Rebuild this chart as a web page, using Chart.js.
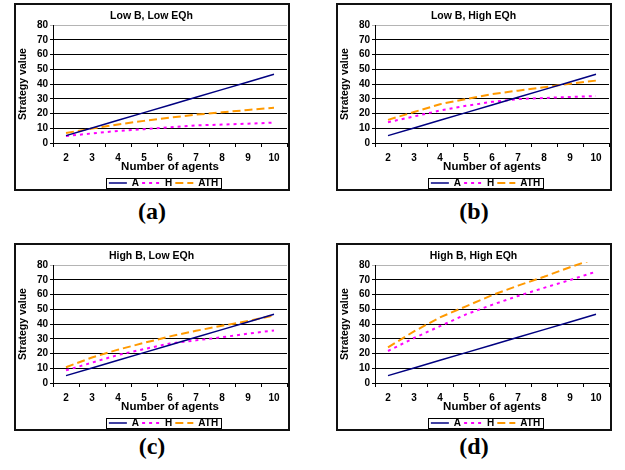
<!DOCTYPE html>
<html>
<head>
<meta charset="utf-8">
<script src="https://cdn.jsdelivr.net/npm/chart.js@4.4.0/dist/chart.umd.min.js"></script>
<style>
  body { margin: 0; background: #fff; width: 625px; height: 470px; position: relative; overflow: hidden; }
  .box { position: absolute; width: 272px; height: 184px; border: 2px solid #111; background: #fff; }
  .box canvas { display: block; }
  .cap { position: absolute; width: 100px; height: 28px; line-height: 28px; text-align: center;
         font: bold 24px "Liberation Serif", "Times New Roman", serif; color: #000; }
</style>
</head>
<body>
<div class="box" style="left:14px;top:3px"><canvas id="chartA" width="272" height="184"></canvas></div>
<div class="box" style="left:336px;top:3px"><canvas id="chartB" width="272" height="184"></canvas></div>
<div class="box" style="left:14px;top:243px"><canvas id="chartC" width="272" height="184"></canvas></div>
<div class="box" style="left:336px;top:243px"><canvas id="chartD" width="272" height="184"></canvas></div>
<div class="cap" style="left:102px;top:198px">(a)</div>
<div class="cap" style="left:424px;top:198px">(b)</div>
<div class="cap" style="left:102px;top:433px">(c)</div>
<div class="cap" style="left:424px;top:433px">(d)</div>

<script>
const agents = ["2", "3", "4", "5", "6", "7", "8", "9", "10"];
const seriesNames = ["A", "H", "ATH"];

// A is the same in all four panels
const valuesA = [5, 10.2, 15.4, 20.6, 25.8, 31, 36.2, 41.4, 46.6];

const lowLowH = [4.7, 6.5, 8.2, 9.4, 10.6, 11.9, 12.5, 13.1, 13.8];
const lowLowATH = [6.8, 9.8, 12.6, 15, 17.2, 19.2, 20.8, 22.4, 23.9];

const lowHighH = [14.1, 18, 22, 25.2, 27.9, 29.8, 30.5, 31.2, 31.8];
const lowHighATH = [15.7, 21, 26.3, 29.8, 33.2, 35.5, 37.8, 40.2, 42.3];

const highLowH = [8.6, 13.8, 19, 23, 26.8, 28.9, 31, 33.5, 35.6];
const highLowATH = [10.7, 17.3, 22.6, 27.2, 31.6, 35.4, 38.8, 42, 45.8];

const highHighH = [21.7, 30.5, 38.5, 46.5, 53, 59, 64.5, 69.8, 75.5];
const highHighATH = [24.2, 35, 44.5, 52, 59.5, 66, 72, 78.5, 84.5];

const yMin = 0;
const yMax = 80;
const yStep = 10;

const font = "'Liberation Sans', Arial, sans-serif";

// frame round the legend items; legend is also moved a bit right and down
const legendFrame = {
    id: "legendFrame",
    afterLayout(chart) {
        chart.legend.left += 12;
        chart.legend.right += 12;
        chart.legend.top += 9;
        chart.legend.bottom += 9;
    },
    afterDraw(chart) {
        const boxes = chart.legend.legendHitBoxes;
        if (!boxes || !boxes.length) return;
        const first = boxes[0];
        const last = boxes[boxes.length - 1];
        const x0 = Math.round(first.left - 3) + 0.5;
        const x1 = Math.round(last.left + last.width + 3) + 0.5;
        const y0 = Math.round(first.top) + 0.5;
        const y1 = Math.round(first.top + first.height) + 0.5;
        const ctx = chart.ctx;
        ctx.save();
        ctx.setLineDash([]);
        ctx.strokeStyle = "#000";
        ctx.lineWidth = 1;
        ctx.strokeRect(x0, y0, x1 - x0, y1 - y0);
        ctx.restore();
    }
};

// legend samples should use the dataset line style, not the point style
function legendLabels(chart) {
    const items = Chart.defaults.plugins.legend.labels.generateLabels(chart);
    items.forEach((item) => {
        const ds = chart.data.datasets[item.datasetIndex];
        item.lineDash = ds.borderDash || [];
        item.lineWidth = ds.borderWidth;
        item.strokeStyle = ds.borderColor;
    });
    return items;
}

function makeChart(id, title, hValues, athValues) {
    const ctx = document.getElementById(id).getContext("2d");
    const clip = { left: 5, top: 3, right: 5, bottom: 5 };
    new Chart(ctx, {
        type: "line",
        data: {
            labels: agents,
            datasets: [
                {
                    label: seriesNames[0],
                    data: valuesA,
                    borderColor: "#000080",
                    borderWidth: 1.5,
                    pointRadius: 0,
                    clip: clip
                },
                {
                    label: seriesNames[1],
                    data: hValues,
                    borderColor: "#ff00ff",
                    borderWidth: 2,
                    borderDash: [3, 4],
                    pointRadius: 0,
                    clip: clip
                },
                {
                    label: seriesNames[2],
                    data: athValues,
                    borderColor: "#ff9900",
                    borderWidth: 2,
                    borderDash: [8, 4],
                    pointRadius: 0,
                    clip: clip
                }
            ]
        },
        options: {
            responsive: false,
            animation: false,
            layout: { padding: { left: 0, right: 1, top: 0, bottom: 0 } },
            plugins: {
                title: {
                    display: true,
                    text: title,
                    color: "#000",
                    font: { family: font, size: 10.5, weight: "bold", lineHeight: 1.2 },
                    padding: { top: 5, bottom: 2.4 }
                },
                legend: {
                    position: "bottom",
                    labels: {
                        usePointStyle: true,
                        pointStyle: "line",
                        pointStyleWidth: 18,
                        boxHeight: 10,
                        color: "#000",
                        font: { family: font, size: 10, weight: "bold" },
                        padding: 3,
                        generateLabels: legendLabels
                    }
                },
                tooltip: { enabled: false }
            },
            scales: {
                x: {
                    offset: true,
                    ticks: {
                        color: "#000",
                        font: { family: font, size: 10, weight: "bold", lineHeight: 1 },
                        padding: 6,
                        maxRotation: 0,
                        autoSkip: false
                    },
                    grid: { offset: true, drawOnChartArea: false, color: "#000", tickLength: 4 },
                    border: { color: "#000" },
                    title: {
                        display: true,
                        text: "Number of agents",
                        color: "#000",
                        font: { family: font, size: 11.5, weight: "bold", lineHeight: 1 },
                        padding: { top: 0, bottom: -6.5 }
                    },
                    afterFit(scale) {
                        scale.height = 23;
                    }
                },
                y: {
                    min: yMin,
                    max: yMax,
                    ticks: {
                        stepSize: yStep,
                        autoSkip: false,
                        color: "#000",
                        font: { family: font, size: 10, weight: "bold", lineHeight: 1 },
                        padding: 2
                    },
                    grid: {
                        color: (c) => (c.tick && c.tick.value === yMax ? "#b4b4b4" : "#000"),
                        tickLength: 3
                    },
                    border: { color: "#000" },
                    title: {
                        display: true,
                        text: "Strategy value",
                        color: "#000",
                        font: { family: font, size: 10.5, weight: "bold", lineHeight: 1.2 },
                        padding: { top: 0.5, bottom: 0 }
                    },
                    afterFit(scale) {
                        scale.width = 37;
                    }
                }
            }
        },
        plugins: [legendFrame]
    });
}

makeChart("chartA", "Low B, Low EQh", lowLowH, lowLowATH);
makeChart("chartB", "Low B, High EQh", lowHighH, lowHighATH);
makeChart("chartC", "High B, Low EQh", highLowH, highLowATH);
makeChart("chartD", "High B, High EQh", highHighH, highHighATH);
</script>
</body>
</html>
